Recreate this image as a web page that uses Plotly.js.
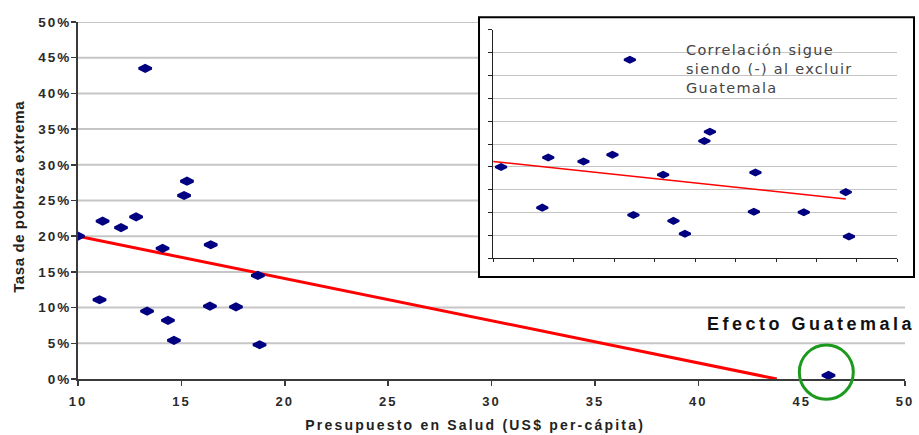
<!DOCTYPE html>
<html>
<head>
<meta charset="utf-8">
<script src="https://cdn.plot.ly/plotly-3.0.1.min.js"></script>
<style>
  html, body { margin: 0; padding: 0; background: #fff; }
  #chart { width: 919px; height: 435px; }
</style>
</head>
<body>
<div id="chart"></div>
<script>
// ---- Data ----
// Health budget (US$ per capita) and extreme poverty rate, countries excluding Guatemala
const budget  = [10.0, 11.19, 11.04, 12.08, 12.81, 13.25, 13.34, 14.09, 14.35, 14.64, 15.13, 15.27, 16.38, 16.42, 17.64, 18.70, 18.78];
const poverty = [0.200, 0.221, 0.111, 0.212, 0.227, 0.435, 0.095, 0.183, 0.082, 0.054, 0.257, 0.277, 0.102, 0.188, 0.101, 0.145, 0.048];
// Guatemala
const guatBudget  = [46.3];
const guatPoverty = [0.005];
// Trend line of the main chart (all countries), end points
const trendMainX = [10.0, 43.8];
const trendMainY = [0.200, 0.000];
// Trend line of the inset (excluding Guatemala), end points
const trendInsetX = [9.8, 18.7];
const trendInsetY = [0.212, 0.130];
// Text
const mainXTitle = 'Presupuesto en Salud (US$ per-cápita)';
const mainYTitle = 'Tasa de pobreza extrema';
const calloutText = 'Efecto Guatemala';
const insetNote = 'Correlación sigue<br>siendo (-) al excluir<br>Guatemala';

// ---- Styling ----
const NAVY = '#000080';
const RED = '#ff0000';
const GRID = '#c6c6c6';
const AXIS = '#3a3a3a';
const ARIAL = 'Liberation Sans, Arial, sans-serif';

const insetRange = [9.8, 20.0];
const insetTicks = [];
for (let i = 0; i <= 10; i++) insetTicks.push(insetRange[0] + i * (insetRange[1] - insetRange[0]) / 10);

const data = [
  { // main trend
    x: trendMainX, y: trendMainY, xaxis: 'x', yaxis: 'y',
    type: 'scatter', mode: 'lines',
    line: { color: RED, width: 3 }, hoverinfo: 'skip'
  },
  { // main points
    x: budget.concat(guatBudget), y: poverty.concat(guatPoverty), xaxis: 'x', yaxis: 'y',
    type: 'scatter', mode: 'markers',
    marker: { symbol: 'diamond-wide', size: 9, color: NAVY, line: { color: NAVY, width: 2.6 } }
  },
  { // inset trend
    x: trendInsetX, y: trendInsetY, xaxis: 'x2', yaxis: 'y2',
    type: 'scatter', mode: 'lines',
    line: { color: RED, width: 1.5 }, hoverinfo: 'skip'
  },
  { // inset points
    x: budget, y: poverty, xaxis: 'x2', yaxis: 'y2',
    type: 'scatter', mode: 'markers',
    marker: { symbol: 'diamond-wide', size: 8, color: NAVY, line: { color: NAVY, width: 2.2 } }
  }
];

// main horizontal gridlines as shapes (so the inset box can cover them)
const shapes = [];
for (let v = 0.05; v <= 0.5001; v += 0.05) {
  shapes.push({
    type: 'line', xref: 'paper', yref: 'y', x0: 0, x1: 1, y0: v, y1: v,
    line: { color: GRID, width: 2 }, layer: 'below'
  });
}
// inset box
shapes.push({
  type: 'rect', xref: 'paper', yref: 'paper',
  x0: 0.4849, x1: 1.0109, y0: 0.2857, y1: 1.0132,
  fillcolor: '#ffffff', line: { color: '#000000', width: 2 }, layer: 'below'
});
// green circle around Guatemala
shapes.push({
  type: 'circle', xref: 'paper', yref: 'paper',
  x0: 0.8722, x1: 0.9375, y0: -0.0569, y1: 0.0952,
  line: { color: '#1d9a1d', width: 3 }, layer: 'above'
});

const annotations = [
  { text: calloutText, xref: 'paper', yref: 'paper', x: 0.8865, y: 0.1527,
    xanchor: 'center', yanchor: 'middle', showarrow: false,
    font: { family: ARIAL, size: 18, color: '#111111', weight: 'bold' } },
  { text: insetNote, xref: 'paper', yref: 'paper', x: 0.733, y: 0.8696,
    xanchor: 'left', yanchor: 'middle', align: 'left', showarrow: false,
    font: { family: 'DejaVu Sans, Verdana, sans-serif', size: 14.5, color: '#444444' } },
  { text: mainXTitle, xref: 'paper', yref: 'paper', x: 0.48, y: -0.1275,
    xanchor: 'center', yanchor: 'middle', showarrow: false,
    font: { family: ARIAL, size: 14, color: '#222222', weight: 'bold' } },
  { text: mainYTitle, xref: 'paper', yref: 'paper', x: -0.0726, y: 0.5126,
    xanchor: 'center', yanchor: 'middle', textangle: -90, showarrow: false,
    font: { family: ARIAL, size: 15, color: '#222222', weight: 'bold' } }
];

const tickFontX = { family: ARIAL, size: 13, color: '#2a2a2a', weight: 'bold' };
const tickFontY = { family: ARIAL, size: 13.5, color: '#2a2a2a', weight: 'bold' };

const layout = {
  width: 919, height: 435,
  margin: { l: 78, r: 14, t: 22, b: 56 },
  paper_bgcolor: '#ffffff', plot_bgcolor: 'rgba(0,0,0,0)',
  showlegend: false, hovermode: false,
  xaxis: {
    domain: [0, 1], anchor: 'y', range: [10, 50], tick0: 10, dtick: 5,
    showgrid: false, zeroline: false, showline: true, linecolor: AXIS, linewidth: 2,
    ticks: 'outside', ticklen: 5, tickwidth: 1.5, tickcolor: AXIS,
    tickfont: tickFontX, ticklabelstandoff: 4, fixedrange: true
  },
  yaxis: {
    domain: [0, 1], anchor: 'x', range: [0, 0.5], tick0: 0, dtick: 0.05, tickformat: '.0%',
    showgrid: false, zeroline: false, showline: true, linecolor: AXIS, linewidth: 2,
    ticks: 'outside', ticklen: 5, tickwidth: 1.5, tickcolor: AXIS,
    tickfont: tickFontY, ticklabelstandoff: -3, fixedrange: true
  },
  xaxis2: {
    domain: [0.502, 0.9907], anchor: 'y2', range: insetRange, tickvals: insetTicks,
    showticklabels: false, ticks: 'outside', ticklen: 3, tickcolor: '#222222',
    showline: true, linecolor: '#222222', linewidth: 1, showgrid: false, zeroline: false, fixedrange: true
  },
  yaxis2: {
    domain: [0.338, 0.9776], anchor: 'x2', range: [0, 0.5], tick0: 0, dtick: 0.05,
    showticklabels: false, ticks: 'outside', ticklen: 4, tickcolor: '#222222',
    showline: true, linecolor: '#222222', linewidth: 1,
    showgrid: true, gridcolor: '#c4c4c4', gridwidth: 1, zeroline: false, fixedrange: true
  },
  shapes: shapes,
  annotations: annotations
};

Plotly.newPlot('chart', data, layout, { displayModeBar: false, staticPlot: true }).then(function (gd) {
  gd.querySelectorAll('.xtick text, .ytick text').forEach(function (t) { t.style.letterSpacing = '2px'; });
  const spacing = ['3.5px', '1.3px', '2.2px', '0.6px'];
  gd.querySelectorAll('.annotation').forEach(function (g) {
    const i = +g.getAttribute('data-index');
    const t = g.querySelector('.annotation-text');
    if (t && spacing[i]) t.style.letterSpacing = spacing[i];
  });
});
</script>
</body>
</html>
